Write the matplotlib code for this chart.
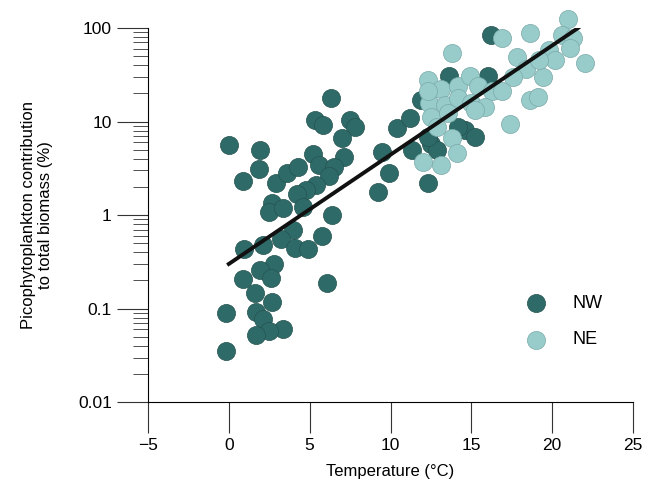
import matplotlib.pyplot as plt
import numpy as np

plt.rcParams['font.family'] = ['Liberation Sans', 'DejaVu Sans']

nw_temp = [0.0, 1.9, 1.85, 0.9, 2.9, 3.6, 4.3, 5.2, 5.6, 6.3, 5.3, 5.85, 7.5, 7.8, 7.0, 7.1, 6.5, 6.2, 5.4,
           4.8, 4.2, 4.6, 2.7, 2.5, 3.35, 6.4, 4.0, 3.25, 4.1, 4.9, 2.1, 0.95, 2.8, 1.9, 2.6, 0.9, 5.75,
           6.05, 1.6, 2.7, 1.7, 2.1, -0.2, 3.35, 2.5, 1.7, -0.15, 9.5, 9.2, 9.9, 10.4, 11.2, 11.3, 12.3,
           11.9, 12.5, 13.6, 16.0, 16.2, 14.6, 15.2, 12.9, 14.2, 12.3]
nw_bio = [5.6, 5.0, 3.1, 2.3, 2.2, 2.8, 3.3, 4.5, 3.4, 17.7, 10.4, 9.2, 10.5, 8.8, 6.6, 4.2, 3.3, 2.6, 2.1,
          1.85, 1.7, 1.23, 1.33, 1.09, 1.18, 1.0, 0.69, 0.56, 0.44, 0.43, 0.48, 0.43, 0.30, 0.26, 0.21,
          0.205, 0.59, 0.19, 0.145, 0.118, 0.092, 0.078, 0.089, 0.061, 0.058, 0.052, 0.035, 4.75, 1.78,
          2.8, 8.5, 10.8, 4.95, 2.2, 17, 5.8, 31, 31, 84, 8.1, 6.9, 4.95, 8.8, 6.9]
ne_temp = [21.0, 16.9, 18.6, 20.6, 21.3, 13.8, 17.8, 19.8, 20.2, 21.1, 22.0, 19.4, 18.35, 17.6, 12.3, 13.15,
           14.2, 14.9, 15.4, 16.3, 16.9, 12.4, 13.35, 14.2, 15.0, 15.85, 12.5, 13.55, 18.6, 19.1, 17.4,
           12.9, 13.8, 14.1, 12.0, 13.15, 19.2, 12.3, 15.2]
ne_bio = [124, 79, 88, 84, 78, 54, 49, 58, 45, 61, 42, 30, 36, 30, 28, 22, 24, 31, 24, 21, 21, 15.6, 15,
          17.7, 15.6, 14.4, 11.3, 12.2, 17, 18.5, 9.5, 8.8, 6.6, 4.6, 3.7, 3.4, 45, 21, 13.3]
fit_temp = [0.0, 21.6]
fit_bio = [0.3, 100]

fig = plt.figure(figsize=(6.46, 4.91), dpi=100)
ax = fig.add_axes([0.229, 0.181, 0.751, 0.762])
ax.scatter(nw_temp, nw_bio, s=170, c='#2e6b68', edgecolors='#24524f', linewidths=0.5,
           label='NW', clip_on=False, zorder=2)
ax.scatter(ne_temp, ne_bio, s=170, c='#97cccb', edgecolors='#7aa9a8', linewidths=0.5,
           label='NE', clip_on=False, zorder=3)
ax.plot(fit_temp, fit_bio, color='#111111', lw=2.8, zorder=4)

ax.set_yscale('log')
ax.set_xlim(-5, 25)
ax.set_ylim(0.01, 100)
ax.set_xticks([-5, 0, 5, 10, 15, 20, 25])
ax.set_yticks([0.01, 0.1, 1, 10, 100])
ax.set_yticklabels(['0.01', '0.1', '1', '10', '100'])
for s in ['top', 'right']:
    ax.spines[s].set_visible(False)
ax.tick_params(direction='out', length=22, labelsize=12.5, pad=4, color='#333333')
ax.tick_params(which='minor', length=11, color='#333333')
ax.set_xlabel('Temperature (°C)', fontsize=12, labelpad=8)
ax.set_ylabel('Picophytoplankton contribution\nto total biomass (%)', fontsize=12, labelpad=18)
ax.legend(loc='lower right', bbox_to_anchor=(0.97, 0.1), frameon=False, fontsize=13,
          handletextpad=1.0, labelspacing=1.1, scatterpoints=1)

fig.savefig('out.png', dpi=100)
